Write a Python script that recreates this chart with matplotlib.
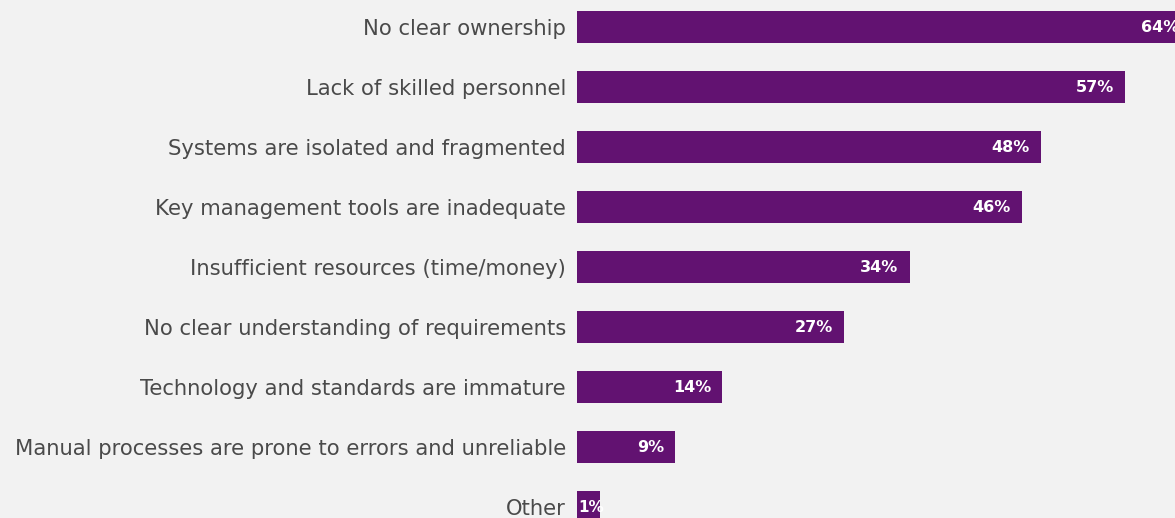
import matplotlib
matplotlib.use("Agg")
import matplotlib.pyplot as plt

# Survey results: main obstacles, share of respondents (%)
categories = [
    "No clear ownership",
    "Lack of skilled personnel",
    "Systems are isolated and fragmented",
    "Key management tools are inadequate",
    "Insufficient resources (time/money)",
    "No clear understanding of requirements",
    "Technology and standards are immature",
    "Manual processes are prone to errors and unreliable",
    "Other",
]
values = [64, 57, 48, 46, 34, 27, 14, 9, 1]

BG = "#f2f2f2"
BAR = "#621271"
TEXT = "#4a4a4a"

fig = plt.figure(figsize=(11.75, 5.18), dpi=100, facecolor=BG)
ax = fig.add_axes([577 / 1175, 0, 1 - 577 / 1175, 1])
ax.set_facecolor(BG)

# bars start a little left of zero so that tiny values still show
base = -1.5
ypos = list(range(len(categories)))
ax.barh(ypos, [v - base for v in values], left=base, height=0.533, color=BAR)

for y, v in zip(ypos, values):
    if v < 3:
        # too narrow: put the label at the start of the bar
        ax.annotate(f"{v}%", xy=(base, y), xytext=(1, 0), textcoords="offset points",
                    ha="left", va="center", color="white", fontsize=11,
                    fontweight="bold", annotation_clip=False)
    else:
        ax.annotate(f"{v}%", xy=(v, y), xytext=(-8, 0), textcoords="offset points",
                    ha="right", va="center", color="white", fontsize=11.5,
                    fontweight="bold", annotation_clip=False)

ax.set_xlim(base, base + 598 / 9.37)
ax.set_ylim(8.183, -0.45)
ax.set_yticks(ypos)
ax.set_yticklabels(categories, fontsize=15.2, color=TEXT)
ax.tick_params(axis="y", length=0, pad=8)
ax.set_xticks([])
for s in ax.spines.values():
    s.set_visible(False)

fig.savefig("out.png", dpi=100, facecolor=BG)
